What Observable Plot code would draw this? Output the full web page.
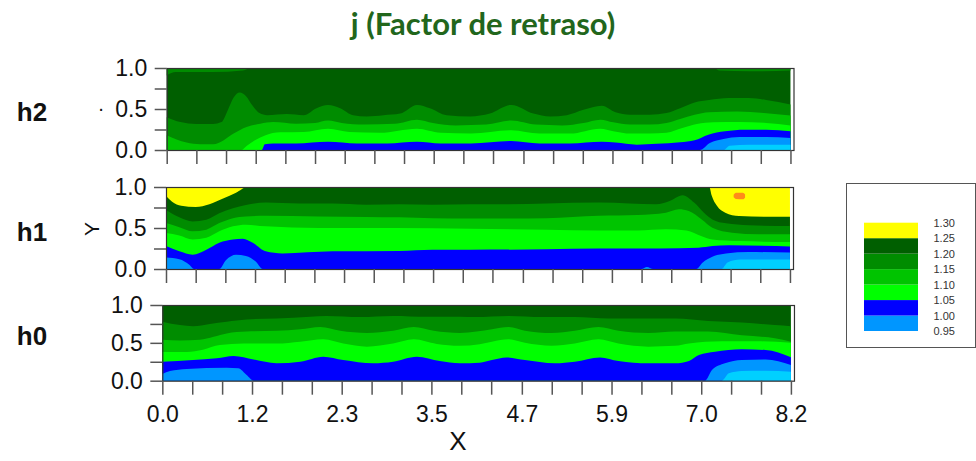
<!DOCTYPE html>
<html><head><meta charset="utf-8">
<script src="https://cdn.jsdelivr.net/npm/d3@7"></script>
<script src="https://cdn.jsdelivr.net/npm/@observablehq/plot@0.6"></script>
<style>
html,body{margin:0;padding:0;background:#fff;overflow:hidden}
#root{position:relative;width:976px;height:461px;font-family:"Liberation Sans",Arial,sans-serif;overflow:hidden}
.lbl{position:absolute;white-space:nowrap;line-height:1;transform:translate(-50%,-50%)}
.pnl{position:absolute;left:0}
</style></head><body><div id="root"></div>
<script>
// ---------- data ----------
const title = "j (Factor de retraso)";
const panelNames = ["h2", "h1", "h0"];
const levels = [0.95, 1.00, 1.05, 1.10, 1.15, 1.20, 1.25, 1.30];
// band colors: below 0.95, 0.95-1.00, ..., 1.25-1.30, above 1.30
const bandColors = ["#00d0ff", "#0096ff", "#0000ff", "#00ff00", "#00c400", "#008c00", "#005f00", "#ffff00", "#ff8c1a"];
const xExtent = [0, 8.2];
const xTicks = [0,0.39,0.78,1.17,1.56,1.95,2.34,2.73,3.12,3.51,3.9,4.29,4.69,5.08,5.47,5.86,6.25,6.64,7.03,7.42,7.81,8.2];
const xLabelTicks = [0, 1.17, 2.34, 3.51, 4.69, 5.86, 7.03, 8.2];
const xTickLabels = ["0.0", "1.2", "2.3", "3.5", "4.7", "5.9", "7.0", "8.2"];
const yTicks = [0, 0.25, 0.5, 0.75, 1];
const yLabelTicks = [0, 0.5, 1];
const yTickLabels = ["0.0", "0.5", "1.0"];
const legendLabels = ["1.30", "1.25", "1.20", "1.15", "1.10", "1.05", "1.00", "0.95"];

// contour boundaries: [x, y] where the value crosses the level (below = lower band)
const h2_b120 = [[0,0.40],[0.18,0.34],[0.39,0.316],[0.61,0.316],[0.72,0.34],[0.80,0.48],[0.88,0.64],[0.96,0.70],[1.04,0.66],[1.13,0.54],[1.22,0.45],[1.32,0.425],[1.58,0.44],[1.80,0.425],[1.97,0.51],[2.12,0.55],[2.28,0.51],[2.45,0.425],[2.63,0.41],[2.85,0.425],[3.07,0.445],[3.29,0.55],[3.46,0.51],[3.68,0.425],[3.99,0.41],[4.25,0.445],[4.53,0.55],[4.82,0.445],[5.04,0.41],[5.26,0.425],[5.48,0.49],[5.72,0.54],[5.90,0.46],[6.09,0.43],[6.35,0.43],[6.57,0.45],[6.75,0.51],[6.94,0.58],[7.13,0.61],[7.39,0.634],[7.65,0.634],[7.88,0.61],[8.2,0.555]];
const h2_b115 = [[0,0.18],[0.26,0.09],[0.44,0.07],[0.61,0.07],[0.75,0.12],[0.88,0.20],[1.05,0.28],[1.23,0.32],[1.40,0.34],[1.70,0.32],[1.95,0.33],[2.12,0.36],[2.30,0.33],[2.60,0.31],[3.00,0.32],[3.29,0.37],[3.50,0.33],[3.80,0.30],[4.20,0.31],[4.53,0.36],[4.85,0.31],[5.20,0.30],[5.48,0.33],[5.70,0.37],[5.87,0.337],[6.09,0.31],[6.35,0.31],[6.57,0.33],[6.75,0.378],[6.94,0.43],[7.13,0.46],[7.50,0.47],[7.85,0.45],[8.2,0.42]];
const h2_b110 = [[0,0],[0.98,0],[1.05,0.05],[1.16,0.12],[1.30,0.18],[1.49,0.215],[1.80,0.22],[2.12,0.26],[2.40,0.22],[2.80,0.21],[3.29,0.26],[3.60,0.21],[4.00,0.20],[4.53,0.24],[4.90,0.20],[5.30,0.20],[5.70,0.26],[5.87,0.23],[6.10,0.20],[6.35,0.20],[6.57,0.21],[6.79,0.27],[6.97,0.317],[7.19,0.337],[7.53,0.34],[7.88,0.33],[8.2,0.30]];
const h2_b105 = [[0,0],[1.25,0],[1.29,0.07],[1.40,0.08],[1.70,0.08],[2.12,0.10],[2.50,0.08],[2.90,0.08],[3.29,0.10],[3.60,0.08],[4.00,0.08],[4.53,0.11],[4.90,0.08],[5.30,0.08],[5.72,0.10],[5.90,0.09],[6.18,0.065],[6.44,0.075],[6.75,0.093],[6.94,0.118],[7.12,0.187],[7.34,0.228],[7.60,0.248],[7.88,0.248],[8.2,0.228]];
const h2_b100 = [[0,0],[7.01,0],[7.14,0.085],[7.32,0.134],[7.53,0.159],[7.88,0.159],[8.2,0.146]];
const h2_b095 = [[0,0],[7.32,0],[7.40,0.053],[7.66,0.065],[8.2,0.065]];
const h2_cap = [[0,0.91],[0.12,0.95],[0.60,0.95],[1.00,0.97],[1.12,1],[7.20,1],[7.26,0.97],[7.66,0.96],[8.2,0.97]];

const h1_b125 = [[0,0.89],[0.08,0.82],[0.20,0.77],[0.39,0.755],[0.57,0.79],[0.75,0.86],[0.92,0.93],[1.07,1],[7.14,1],[7.17,0.90],[7.24,0.77],[7.35,0.687],[7.53,0.646],[7.88,0.638],[8.2,0.638]];
const h1_b120 = [[0,0.72],[0.175,0.63],[0.35,0.58],[0.53,0.60],[0.70,0.68],[0.88,0.74],[1.05,0.78],[1.31,0.81],[1.75,0.80],[2.19,0.80],[2.63,0.785],[3.07,0.79],[3.50,0.785],[4.00,0.79],[4.50,0.79],[5.00,0.80],[5.69,0.81],[6.09,0.80],[6.44,0.79],[6.62,0.83],[6.79,0.90],[6.94,0.81],[7.07,0.687],[7.18,0.605],[7.36,0.557],[7.66,0.533],[8.2,0.524]];
const h1_b115 = [[0,0.56],[0.175,0.51],[0.35,0.46],[0.53,0.48],[0.70,0.56],[0.88,0.62],[1.05,0.64],[1.31,0.65],[2.00,0.64],[2.63,0.635],[3.07,0.63],[3.50,0.62],[4.00,0.615],[4.50,0.615],[5.00,0.62],[5.69,0.65],[6.20,0.66],[6.57,0.687],[6.74,0.728],[6.87,0.707],[7.04,0.605],[7.18,0.504],[7.44,0.443],[7.79,0.423],[8.2,0.423]];
const h1_b110 = [[0,0.44],[0.175,0.41],[0.35,0.36],[0.53,0.38],[0.70,0.46],[0.88,0.52],[1.05,0.54],[1.31,0.52],[2.00,0.50],[3.00,0.50],[4.00,0.49],[5.00,0.48],[5.69,0.47],[6.20,0.47],[6.57,0.484],[6.84,0.47],[7.04,0.40],[7.18,0.36],[7.53,0.34],[8.2,0.33]];
const h1_b105 = [[0,0.28],[0.175,0.215],[0.35,0.175],[0.53,0.235],[0.70,0.32],[0.88,0.36],[1.01,0.37],[1.14,0.32],[1.31,0.215],[1.53,0.19],[2.19,0.215],[3.07,0.22],[3.50,0.235],[4.00,0.235],[5.00,0.24],[5.69,0.25],[6.50,0.25],[7.00,0.26],[7.18,0.28],[7.40,0.29],[8.2,0.275]];
const h1_b100 = [[0,0.14],[0.175,0.12],[0.31,0.05],[0.37,0],[0.70,0],[0.79,0.11],[0.92,0.175],[1.05,0.16],[1.18,0.09],[1.27,0],[6.25,0],[6.32,0.025],[6.40,0],[6.97,0],[7.05,0.077],[7.18,0.15],[7.36,0.19],[7.66,0.207],[8.2,0.2]];
const h1_b095 = [[0,0],[7.30,0],[7.38,0.08],[7.55,0.115],[8.2,0.115]];
const h1_orange = [[7.46,0.875,0.905],[7.49,0.855,0.93],[7.58,0.85,0.93],[7.61,0.87,0.91]];

const h0_b120 = [[0,0.78],[0.23,0.735],[0.40,0.72],[0.62,0.75],[0.84,0.78],[1.10,0.81],[1.49,0.82],[1.93,0.845],[2.14,0.855],[2.58,0.84],[3.01,0.855],[3.45,0.845],[3.88,0.845],[4.08,0.84],[4.52,0.855],[4.95,0.84],[5.38,0.84],[5.82,0.82],[6.25,0.82],[6.69,0.82],[7.12,0.79],[7.56,0.77],[7.99,0.735],[8.2,0.72]];
const h0_b115 = [[0,0.54],[0.23,0.53],[0.49,0.54],[0.67,0.58],[0.84,0.625],[1.10,0.65],[1.49,0.66],[1.80,0.68],[2.06,0.71],[2.32,0.66],[2.67,0.63],[3.01,0.66],[3.28,0.71],[3.54,0.66],[3.88,0.63],[4.10,0.65],[4.30,0.68],[4.52,0.71],[4.73,0.66],[5.08,0.63],[5.38,0.66],[5.69,0.71],[5.95,0.66],[6.34,0.63],[6.69,0.65],[7.12,0.65],[7.56,0.60],[7.99,0.56],[8.2,0.515]];
const h0_b110 = [[0,0.38],[0.32,0.38],[0.53,0.41],[0.75,0.47],[1.06,0.49],[1.49,0.49],[1.80,0.515],[2.10,0.546],[2.36,0.49],[2.67,0.45],[3.01,0.49],[3.28,0.546],[3.58,0.485],[3.88,0.46],[4.14,0.48],[4.30,0.515],[4.52,0.546],[4.73,0.50],[5.08,0.46],[5.38,0.49],[5.69,0.546],[5.95,0.49],[6.34,0.45],[6.69,0.46],[6.87,0.49],[7.30,0.52],[7.78,0.52],[8.2,0.50]];
const h0_b105 = [[0,0.25],[0.40,0.273],[0.71,0.295],[0.93,0.326],[1.19,0.28],[1.49,0.23],[1.80,0.25],[2.10,0.317],[2.36,0.273],[2.75,0.23],[3.01,0.25],[3.32,0.317],[3.62,0.26],[3.88,0.23],[4.14,0.238],[4.30,0.273],[4.49,0.308],[4.73,0.273],[5.12,0.23],[5.38,0.25],[5.71,0.308],[5.95,0.26],[6.34,0.23],[6.69,0.23],[6.87,0.26],[7.00,0.34],[7.21,0.383],[7.56,0.414],[7.87,0.405],[8.2,0.31]];
const h0_b100 = [[0,0.088],[0.10,0.128],[0.32,0.154],[0.84,0.172],[0.99,0.163],[1.10,0.075],[1.19,0],[7.08,0],[7.17,0.14],[7.34,0.23],[7.56,0.273],[7.87,0.28],[8.2,0.207]];
const h0_b095 = [[0,0],[7.30,0],[7.39,0.097],[7.56,0.128],[7.87,0.132],[8.2,0.119]];

// ---------- helpers ----------
const colorBelow = (lvl) => bandColors[levels.indexOf(lvl)];
const root = document.getElementById("root");
function addText(txt, x, y, css) {
  const d = document.createElement("div");
  d.className = "lbl";
  d.textContent = txt;
  d.style.left = x + "px";
  d.style.top = y + "px";
  Object.assign(d.style, css || {});
  root.appendChild(d);
  return d;
}
const xLabelMap = new Map(xLabelTicks.map((v, i) => [v, xTickLabels[i]]));
const yLabelMap = new Map(yLabelTicks.map((v, i) => [v, yTickLabels[i]]));

function panel(cfg) {
  const marks = [];
  marks.push(Plot.areaY(xExtent, {x: d => d, y1: 0, y2: 1, fill: cfg.top}));
  for (const [lvl, pts] of cfg.bounds) {
    marks.push(Plot.areaY(pts, {x: d => d[0], y1: 0, y2: d => d[1], fill: colorBelow(lvl), curve: "monotone-x"}));
  }
  if (cfg.cap) marks.push(Plot.areaY(cfg.cap, {x: d => d[0], y1: d => d[1], y2: 1, fill: bandColors[5], curve: "monotone-x"}));
  if (cfg.blob) marks.push(Plot.areaY(cfg.blob, {x: d => d[0], y1: d => d[1], y2: d => d[2], fill: bandColors[8], curve: "monotone-x"}));
  marks.push(Plot.frame({stroke: "#333", strokeWidth: 1.2}));
  marks.push(Plot.axisX({ticks: xTicks, tickSize: 14, tickPadding: 10, stroke: "#555", strokeWidth: 1.5, fill: "#111",
    tickFormat: d => cfg.showX ? (xLabelMap.get(d) ?? "") : "", label: null}));
  marks.push(Plot.axisY({ticks: yTicks, tickSize: 12, tickPadding: 8, stroke: "#555", strokeWidth: 1.5, fill: "#111",
    tickFormat: d => yLabelMap.get(d) ?? "", label: null}));
  const h = cfg.bottom - cfg.topY;
  const svg = Plot.plot({
    width: 976, height: 10 + h + cfg.mb,
    marginTop: 10, marginBottom: cfg.mb, marginLeft: cfg.left, marginRight: 976 - cfg.right,
    x: {domain: [0, 8.24]}, y: {domain: [0, 1]},
    style: {background: "none", overflow: "visible", fontSize: "23px", fontFamily: "'Liberation Sans', Arial, sans-serif", color: "#111"},
    marks
  });
  const wrap = document.createElement("div");
  wrap.className = "pnl";
  wrap.style.top = (cfg.topY - 10) + "px";
  wrap.appendChild(svg);
  root.appendChild(wrap);
}

panel({top: bandColors[6], left: 166.7, right: 793.5, topY: 68, bottom: 150, mb: 20, showX: false,
  bounds: [[1.20, h2_b120], [1.15, h2_b115], [1.10, h2_b110], [1.05, h2_b105], [1.00, h2_b100], [0.95, h2_b095]], cap: h2_cap});
panel({top: bandColors[7], left: 166, right: 793, topY: 187.3, bottom: 269.3, mb: 20, showX: false,
  bounds: [[1.25, h1_b125], [1.20, h1_b120], [1.15, h1_b115], [1.10, h1_b110], [1.05, h1_b105], [1.00, h1_b100], [0.95, h1_b095]], blob: h1_orange});
panel({top: bandColors[6], left: 162.3, right: 794, topY: 305, bottom: 380.7, mb: 60, showX: true,
  bounds: [[1.20, h0_b120], [1.15, h0_b115], [1.10, h0_b110], [1.05, h0_b105], [1.00, h0_b100], [0.95, h0_b095]]});

// legend
const legendBands = levels.slice(0, 7).map((lv, i) => ({lo: lv, hi: levels[i + 1], color: bandColors[i + 1]}));
const legendWrap = document.createElement("div");
Object.assign(legendWrap.style, {position: "absolute", left: "846px", top: "183px", width: "128px", height: "163px", border: "1px solid #555"});
legendWrap.appendChild(Plot.plot({
  width: 128, height: 163, marginTop: 38.7, marginBottom: 16, marginLeft: 17, marginRight: 57,
  x: {domain: [0, 1], axis: null}, y: {domain: [0.95, 1.30], axis: null},
  style: {background: "none", overflow: "visible", fontSize: "11px", fontFamily: "'Liberation Sans', Arial, sans-serif", color: "#333"},
  marks: [
    Plot.rect(legendBands, {x1: 0, x2: 1, y1: d => d.lo, y2: d => d.hi, fill: d => d.color}),
    Plot.text(legendLabels, {x: 1, y: d => +d, text: d => d, dx: 15, textAnchor: "start", fill: "#333"})
  ]
}));
root.appendChild(legendWrap);

// texts
addText(title, 483, 23, {fontFamily: "Lato, sans-serif", fontWeight: "700", fontSize: "31px", color: "#22661c"});
addText(panelNames[0], 32, 112, {fontWeight: "700", fontSize: "26px", color: "#111"});
addText(panelNames[1], 32, 232, {fontWeight: "700", fontSize: "26px", color: "#111"});
addText(panelNames[2], 32, 336, {fontWeight: "700", fontSize: "26px", color: "#111"});
addText("Y", 91, 229, {fontSize: "21px", color: "#111", transform: "translate(-50%,-50%) rotate(-90deg)"});
addText("X", 458, 441, {fontSize: "26px", color: "#111"});
addText("·", 101, 108, {fontSize: "20px", color: "#111"});
</script></body></html>
